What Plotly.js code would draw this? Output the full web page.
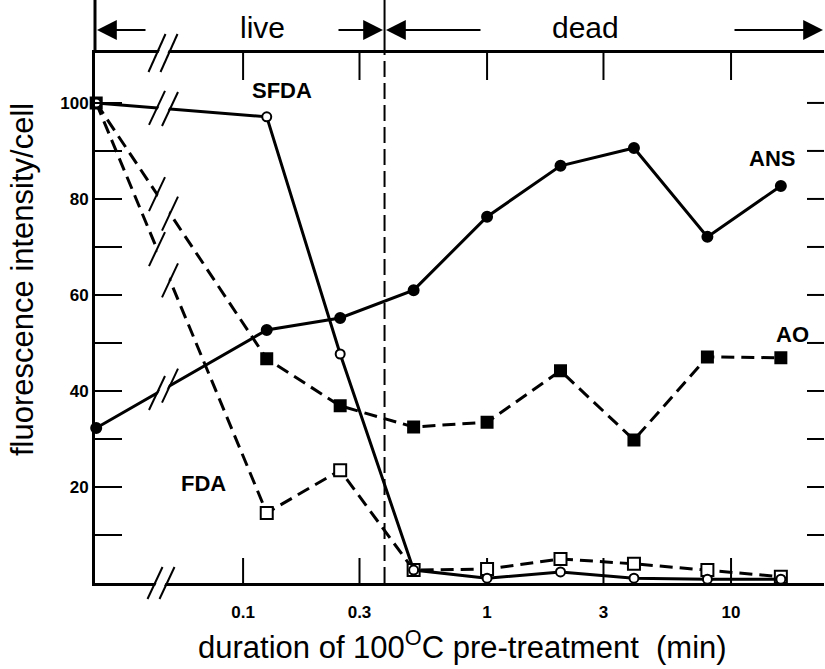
<!DOCTYPE html>
<html><head><meta charset="utf-8">
<script src="https://cdn.plot.ly/plotly-3.0.1.min.js"></script>
<style>html,body{margin:0;padding:0;background:#fff}#chart{width:825px;height:669px}</style>
</head><body><div id="chart"></div>
<script>
// first duration = untreated control, drawn behind the axis break
const durations = [0.025, 0.125, 0.25, 0.5, 1, 2, 4, 8, 16];
const sfda = [100, 97.1, 47.7, 2.7, 1.0, 2.3, 1.0, 0.8, 0.8];
const fda  = [100, 14.6, 23.5, 2.7, 2.9, 5.0, 4.0, 2.7, 1.3];
const ans  = [32.3, 52.7, 55.2, 61.0, 76.3, 86.9, 90.6, 72.1, 82.7];
const ao   = [100, 46.7, 36.9, 32.5, 33.5, 44.2, 29.8, 47.1, 46.9];
const xTickVals = [0.1, 0.3, 1, 3, 10];
const xTickText = ['0.1', '0.3', '1', '3', '10'];
const yTickVals = [10, 20, 30, 40, 50, 60, 70, 80, 90, 100];
const yTickText = ['', '20', '', '40', '', '60', '', '80', '', '100'];
const liveDeadBoundary = 0.38;

const L = 95, T = 53, W = 729, H = 530;
const xr = [-1.607, 1.381], yr = [0, 110.4];
const FONT = 'Liberation Sans, Arial, Helvetica, sans-serif';

function px(x) { return (x - L) / W; }
function py(y) { return (T + H - y) / H; }
function xPaper(v) { return (Math.log10(v) - xr[0]) / (xr[1] - xr[0]); }
function dataPx(xv, yv) {
  return [L + xPaper(xv) * W, T + H - (yv - yr[0]) / (yr[1] - yr[0]) * H];
}
const yPerPx = (yr[1] - yr[0]) / H;

const shapes = [];
function seg(x0, y0, x1, y1, w, dash) {
  shapes.push({type: 'line', xref: 'paper', yref: 'paper', layer: 'above',
    x0: px(x0), y0: py(y0), x1: px(x1), y1: py(y1),
    line: {color: '#000', width: w, dash: dash || 'solid'}});
}
function breakMark(c1x, c1y, c2x, c2y, hx, hy) {
  const pts = [[c1x - hx + 1.5, c1y + hy], [c1x + hx + 1.5, c1y - hy],
               [c2x + hx - 1.5, c2y - hy], [c2x - hx - 1.5, c2y + hy]];
  const path = 'M ' + pts.map(p => px(p[0]) + ',' + py(p[1])).join(' L ') + ' Z';
  shapes.push({type: 'path', xref: 'paper', yref: 'paper', layer: 'above', path: path,
    fillcolor: '#fff', line: {width: 0}});
  seg(c1x - hx, c1y + hy, c1x + hx, c1y - hy, 2);
  seg(c2x - hx, c2y + hy, c2x + hx, c2y - hy, 2);
}

// x ticks (bottom and top, pointing inward), in the subplot layer below the markers
xTickVals.forEach(v => {
  const xp = xPaper(v);
  shapes.push({type: 'line', xref: 'paper', yref: 'y', layer: 'below',
    x0: xp, x1: xp, y0: yr[0], y1: yr[0] + 25 * yPerPx, line: {color: '#000', width: 2}});
  shapes.push({type: 'line', xref: 'paper', yref: 'y', layer: 'below',
    x0: xp, x1: xp, y0: yr[1], y1: yr[1] - 27 * yPerPx, line: {color: '#000', width: 2}});
});
// right-side inward ticks at the y tick values
yTickVals.forEach(v => {
  shapes.push({type: 'line', xref: 'paper', yref: 'y', layer: 'above',
    x0: 1, x1: px(L + W - 17), y0: v, y1: v, line: {color: '#000', width: 2}});
});

// vertical live/dead boundary
const bx = L + xPaper(liveDeadBoundary) * W;
seg(bx, T + H, bx, T, 2, '16px,6px');
seg(bx, T, bx, 0, 2);
// left axis extension above frame
seg(L, T, L, 0, 3);

// breaks on lines between control and first treated point
[sfda, fda, ans, ao].forEach(s => {
  const p0 = dataPx(durations[0], s[0]), p1 = dataPx(durations[1], s[1]);
  const at = x => p0[1] + (x - p0[0]) / (p1[0] - p0[0]) * (p1[1] - p0[1]);
  breakMark(157, at(157), 170, at(170), 8, 17);
});
// axis breaks
breakMark(157, T, 169, T, 8.5, 19);
breakMark(155, T + H, 167, T + H, 7.5, 16);

const ann = [];
function label(text, x, y, size, bold, extra) {
  ann.push(Object.assign({text: text, xref: 'paper', yref: 'paper', x: px(x), y: py(y),
    xanchor: 'center', yanchor: 'middle', showarrow: false,
    font: {family: FONT, size: size, color: '#000', weight: bold ? 'bold' : 'normal'}}, extra || {}));
}
function arrow(tipX, tailX, y) {
  ann.push({text: '', xref: 'paper', yref: 'paper', x: px(tipX), y: py(y),
    ax: tailX - tipX, ay: 0, axref: 'pixel', ayref: 'pixel', showarrow: true,
    arrowhead: 2, arrowsize: 2.2, arrowwidth: 1.8, arrowcolor: '#000', standoff: 0, startstandoff: 0});
}
label('live', 262, 28, 30, false);
label('dead', 585, 28, 30, false);
arrow(97, 147, 30);
arrow(383, 337, 30);
arrow(386, 482, 30);
arrow(823, 733, 30);
label('SFDA', 282, 90, 22, true);
label('ANS', 772, 159, 22, true);
label('AO', 792, 334, 22, true);
label('FDA', 203, 483, 22, true);
label('duration of 100<sup>O</sup>C pre-treatment\u00a0\u00a0(min)', 462, 645, 31, false);
label('fluorescence intensity/cell', 22, 280, 31, false, {textangle: -90});

function series(name, y, symbol, fill, dash, mSize, hideControl) {
  return {type: 'scatter', mode: 'lines+markers', name: name, x: durations, y: y,
    cliponaxis: false, hoverinfo: 'skip',
    line: {color: '#000', width: 3, dash: dash},
    marker: {symbol: symbol, color: fill, opacity: 1, line: {color: '#000', width: 2},
      size: durations.map((d, i) => (hideControl && i === 0) ? 0 : mSize)}};
}
const traces = [
  series('AO', ao, 'square', '#000', '13px,7px', 11, false),
  series('FDA', fda, 'square', '#fff', '13px,7px', 12, true),
  series('ANS', ans, 'circle', '#000', 'solid', 10, false),
  series('SFDA', sfda, 'circle', '#fff', 'solid', 9, false)
];

const layout = {
  width: 825, height: 669, showlegend: false,
  paper_bgcolor: '#fff', plot_bgcolor: 'rgba(0,0,0,0)',
  margin: {l: L, r: 825 - L - W, t: T, b: 669 - T - H, pad: 0},
  font: {family: FONT, color: '#000'},
  xaxis: {type: 'log', range: xr, tickvals: xTickVals, ticktext: xTickText,
    ticks: '', ticklabelstandoff: 12,
    showline: true, linewidth: 3, linecolor: '#000', mirror: true,
    showgrid: false, zeroline: false, automargin: false, fixedrange: true,
    tickfont: {family: FONT, size: 17, weight: 'bold', color: '#000'}},
  yaxis: {range: yr, tickvals: yTickVals, ticktext: yTickText,
    ticks: 'inside', ticklen: 27, tickwidth: 2, tickcolor: '#000',
    showline: true, linewidth: 3, linecolor: '#000',
    showgrid: false, zeroline: false, automargin: false, fixedrange: true,
    tickfont: {family: FONT, size: 17, weight: 'bold', color: '#000'}},
  shapes: shapes,
  annotations: ann
};
Plotly.newPlot('chart', traces, layout, {displayModeBar: false, staticPlot: true});
</script></body></html>
